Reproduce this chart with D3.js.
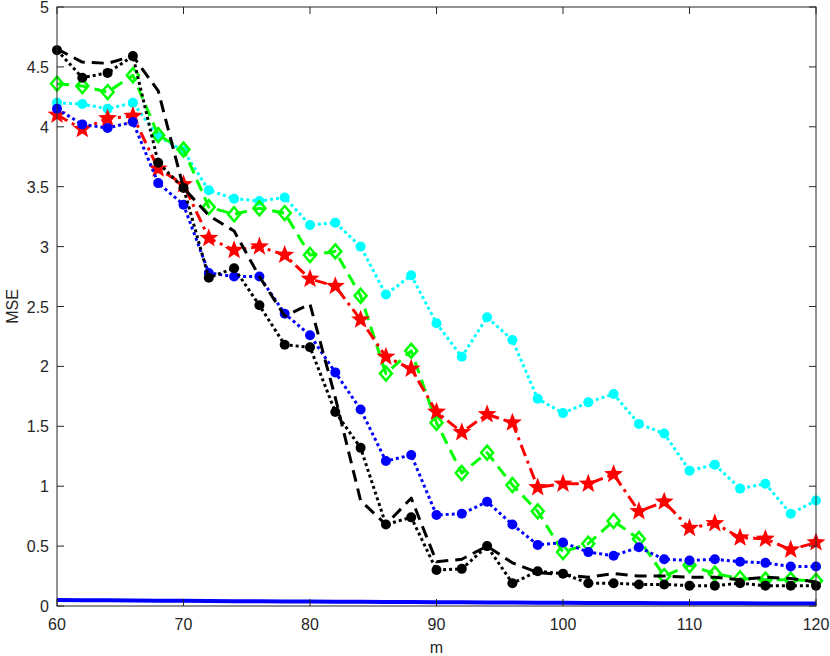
<!DOCTYPE html>
<html>
<head>
<meta charset="utf-8">
<script src="https://cdn.jsdelivr.net/npm/d3@7/dist/d3.min.js"></script>
<style>
body { margin: 0; background: #fff; }
svg { display: block; font-family: "Liberation Sans", Arial, sans-serif; }
</style>
</head>
<body>
<svg id="chart" width="830" height="656"></svg>
<script>
// m values (x axis)
var mVals = d3.range(60, 121, 2);

var cyanVals = [4.2, 4.19, 4.15, 4.2, 3.92, 3.8, 3.47, 3.4, 3.38, 3.41, 3.18, 3.2, 3.0, 2.6, 2.76, 2.36, 2.08, 2.41, 2.22, 1.73, 1.61, 1.7, 1.77, 1.52, 1.44, 1.13, 1.18, 0.98, 1.02, 0.77, 0.88];
var greenVals = [4.36, 4.34, 4.29, 4.43, 3.93, 3.81, 3.33, 3.27, 3.32, 3.28, 2.93, 2.96, 2.59, 1.94, 2.13, 1.53, 1.11, 1.28, 1.01, 0.79, 0.45, 0.52, 0.71, 0.56, 0.25, 0.34, 0.27, 0.23, 0.22, 0.22, 0.21];
var redVals = [4.1, 3.98, 4.07, 4.09, 3.65, 3.52, 3.07, 2.97, 3.0, 2.93, 2.73, 2.67, 2.39, 2.08, 1.98, 1.62, 1.45, 1.6, 1.53, 0.99, 1.02, 1.02, 1.1, 0.79, 0.87, 0.65, 0.69, 0.57, 0.56, 0.47, 0.53];
var blueVals = [4.15, 4.02, 3.99, 4.04, 3.53, 3.35, 2.78, 2.75, 2.75, 2.44, 2.26, 1.95, 1.64, 1.21, 1.26, 0.76, 0.77, 0.87, 0.68, 0.51, 0.53, 0.45, 0.42, 0.49, 0.39, 0.38, 0.39, 0.37, 0.36, 0.33, 0.33];
var blackDashVals = [4.65, 4.54, 4.53, 4.59, 4.3, 3.49, 3.26, 3.13, 2.75, 2.42, 2.52, 1.74, 0.88, 0.68, 0.9, 0.37, 0.39, 0.5, 0.36, 0.28, 0.26, 0.24, 0.27, 0.25, 0.25, 0.24, 0.24, 0.22, 0.24, 0.23, 0.2];
var blackDotVals = [4.64, 4.41, 4.45, 4.59, 3.7, 3.49, 2.74, 2.82, 2.51, 2.18, 2.16, 1.62, 1.32, 0.68, 0.74, 0.3, 0.31, 0.5, 0.19, 0.29, 0.27, 0.19, 0.19, 0.18, 0.18, 0.17, 0.17, 0.19, 0.17, 0.17, 0.17];
var solidVals = [0.05, 0.048, 0.047, 0.045, 0.044, 0.043, 0.041, 0.04, 0.039, 0.038, 0.037, 0.036, 0.035, 0.034, 0.033, 0.032, 0.031, 0.03, 0.029, 0.028, 0.027, 0.026, 0.025, 0.025, 0.024, 0.023, 0.022, 0.022, 0.021, 0.02, 0.02];

var xTicks = [60, 70, 80, 90, 100, 110, 120];
var yTicks = [0, 0.5, 1, 1.5, 2, 2.5, 3, 3.5, 4, 4.5, 5];

var padL = 57, padR = 816, padT = 7, padB = 606;
var axisColor = "#262626";

var svg = d3.select("#chart");
var xScale = d3.scaleLinear().domain([60, 120]).range([padL, padR]);
var yScale = d3.scaleLinear().domain([0, 5]).range([padB, padT]);

// series, drawn in this order
var series = [
	{vals: solidVals, color: "#0000ff", dash: null, width: 4, marker: null},
	{vals: cyanVals, color: "#00ffff", dash: "3,3", width: 3, marker: "circle"},
	{vals: greenVals, color: "#00ff00", dash: "12,7", width: 3, marker: "diamond"},
	{vals: redVals, color: "#ff0000", dash: "12,5,3,5", width: 3, marker: "star"},
	{vals: blueVals, color: "#0000ff", dash: "3,3", width: 3, marker: "circle"},
	{vals: blackDashVals, color: "#000000", dash: "12,7", width: 3, marker: null},
	{vals: blackDotVals, color: "#000000", dash: "3,3", width: 3, marker: "circle"}
];

var line = d3.line()
	.x((d, i) => xScale(mVals[i]))
	.y(d => yScale(d));

function starPath(R) {
	var r = R * 0.42, p = [];
	for (var k = 0; k < 10; k++) {
		var a = -Math.PI / 2 + k * Math.PI / 5;
		var rr = k % 2 == 0 ? R : r;
		p.push([rr * Math.cos(a), rr * Math.sin(a)]);
	}
	return "M" + p.map(q => q[0].toFixed(2) + "," + q[1].toFixed(2)).join("L") + "Z";
}

var plot = svg.append("g");
series.forEach(function(s) {
	var g = plot.append("g");
	g.append("path")
		.attr("d", line(s.vals))
		.attr("fill", "none")
		.attr("stroke", s.color)
		.attr("stroke-width", s.width)
		.attr("stroke-dasharray", s.dash)
		.attr("stroke-linejoin", "round");
	if (s.marker == "circle") {
		g.selectAll("circle").data(s.vals).enter().append("circle")
			.attr("cx", (d, i) => xScale(mVals[i]))
			.attr("cy", d => yScale(d))
			.attr("r", 5)
			.attr("fill", s.color);
	} else if (s.marker == "diamond") {
		g.selectAll("path.m").data(s.vals).enter().append("path")
			.attr("class", "m")
			.attr("d", "M0,-7L6,0L0,7L-6,0Z")
			.attr("transform", (d, i) => "translate(" + xScale(mVals[i]) + "," + yScale(d) + ")")
			.attr("fill", "none")
			.attr("stroke", s.color)
			.attr("stroke-width", 2.5);
	} else if (s.marker == "star") {
		g.selectAll("path.m").data(s.vals).enter().append("path")
			.attr("class", "m")
			.attr("d", starPath(10))
			.attr("transform", (d, i) => "translate(" + xScale(mVals[i]) + "," + yScale(d) + ")")
			.attr("fill", s.color);
	}
});

// box and ticks
var axes = svg.append("g");
axes.append("rect")
	.attr("x", padL).attr("y", padT)
	.attr("width", padR - padL).attr("height", padB - padT)
	.attr("fill", "none").attr("stroke", axisColor).attr("stroke-width", 1);

var tl = 7;
xTicks.forEach(function(t) {
	var x = xScale(t);
	axes.append("line").attr("x1", x).attr("x2", x).attr("y1", padB).attr("y2", padB - tl).attr("stroke", axisColor);
	axes.append("line").attr("x1", x).attr("x2", x).attr("y1", padT).attr("y2", padT + tl).attr("stroke", axisColor);
	axes.append("text").attr("x", x).attr("y", padB + 24)
		.attr("text-anchor", "middle").attr("font-size", 16).attr("fill", axisColor).text(t);
});
yTicks.forEach(function(t) {
	var y = yScale(t);
	axes.append("line").attr("x1", padL).attr("x2", padL + tl).attr("y1", y).attr("y2", y).attr("stroke", axisColor);
	axes.append("line").attr("x1", padR).attr("x2", padR - tl).attr("y1", y).attr("y2", y).attr("stroke", axisColor);
	axes.append("text").attr("x", padL - 8).attr("y", y + 6)
		.attr("text-anchor", "end").attr("font-size", 16).attr("fill", axisColor).text(t);
});

svg.append("text").attr("x", (padL + padR) / 2).attr("y", 653)
	.attr("text-anchor", "middle").attr("font-size", 16).attr("fill", axisColor).text("m");
svg.append("text").attr("transform", "translate(18," + ((padT + padB) / 2) + ") rotate(-90)")
	.attr("text-anchor", "middle").attr("font-size", 16).attr("fill", axisColor).text("MSE");
</script>
</body>
</html>
